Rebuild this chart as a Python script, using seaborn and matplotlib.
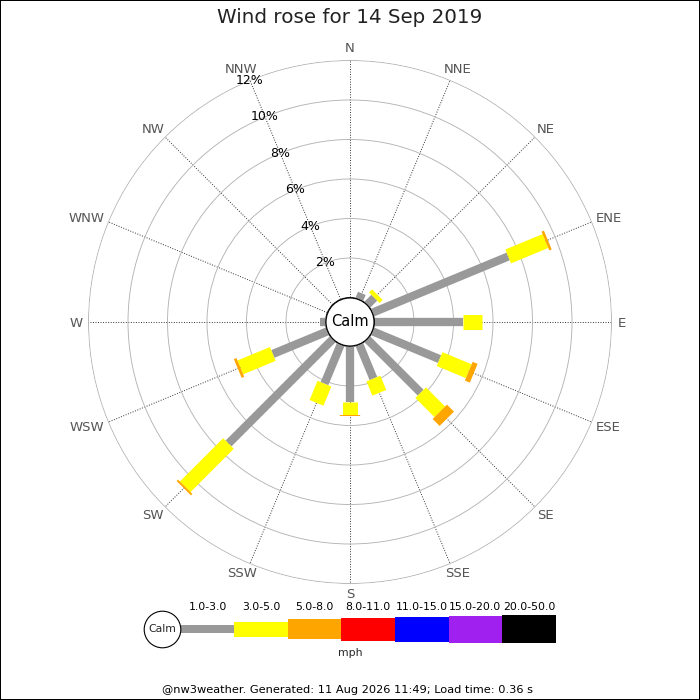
import numpy as np
import matplotlib
matplotlib.use("Agg")
import matplotlib.pyplot as plt
from matplotlib.patches import Circle, Rectangle
import seaborn as sns

sns.set_style("white")
plt.rcParams['font.family'] = ['DejaVu Sans']

# ---------------- data ----------------
directions = ['N', 'NNE', 'NE', 'ENE', 'E', 'ESE', 'SE', 'SSE',
              'S', 'SSW', 'SW', 'WSW', 'W', 'WNW', 'NW', 'NNW']
band_1_3 = [0.0, 0.33, 0.50, 7.43, 4.47, 3.67, 3.82, 1.86,
            2.79, 2.14, 7.46, 2.99, 0.28, 0.0, 0.0, 0.0]
band_3_5 = [0.0, 0.0, 0.22, 2.04, 0.98, 1.60, 1.37, 0.78,
            0.68, 1.05, 3.10, 1.78, 0.0, 0.0, 0.0, 0.0]
band_5_8 = [0.0, 0.0, 0.0, 0.13, 0.0, 0.27, 0.50, 0.0,
            0.07, 0.0, 0.10, 0.14, 0.0, 0.0, 0.0, 0.0]
ring_values = [2, 4, 6, 8, 10, 12]
ring_labels = ['2%', '4%', '6%', '8%', '10%', '12%']

legend_labels = ['1.0-3.0', '3.0-5.0', '5.0-8.0', '8.0-11.0',
                 '11.0-15.0', '15.0-20.0', '20.0-50.0']
legend_colors = ['#999999', '#ffff00', '#ffa500', '#ff0000',
                 '#0000ff', '#a020f0', '#000000']
legend_heights = [8.3, 15, 20.3, 23, 25, 26.7, 28.3]   # px

title = 'Wind rose for 14 Sep 2019'
footer = '@nw3weather. Generated: 11 Aug 2026 11:49; Load time: 0.36 s'

# ---------------- figure ----------------
fig = plt.figure(figsize=(7, 7), dpi=100)
fig.patch.set_facecolor('white')

px_per_unit = 19.75
zero_px = 24.5
rmax = 12.03
R_px = zero_px + px_per_unit * rmax
cx, cy = 350 / 700, 1 - 322 / 700
half = R_px / 700
ax = fig.add_axes([cx - half, cy - half, 2 * half, 2 * half], projection='polar')
ax.set_theta_zero_location('N')
ax.set_theta_direction(-1)
ax.set_ylim(0, rmax)
ax.set_rorigin(-zero_px / px_per_unit)
ax.set_facecolor('white')
for sp in ax.spines.values():
    sp.set_visible(False)

angles = np.deg2rad(np.arange(16) * 22.5)
ax.set_xticks(angles)
ax.set_xticklabels([])
ax.set_yticks(ring_values)
ax.set_yticklabels([])
ax.xaxis.grid(True, color='#333333', linestyle=(0, (1, 1.6)), linewidth=0.7)
ax.yaxis.grid(True, color='#b4b4b4', linestyle='-', linewidth=0.65)
ax.set_axisbelow(True)

# direction labels, placed just outside the outer ring
renderer = fig.canvas.get_renderer()
dir_fs = 9.5
cap_px = 0.73 * dir_fs * 100 / 72
gap = 5.0
for th, lab in zip(angles, directions):
    tmp = fig.text(0, 0, lab, fontsize=dir_fs)
    w = tmp.get_window_extent(renderer=renderer).width
    tmp.remove()
    s, c = np.sin(th), np.cos(th)
    dx = gap * s + (w / 2 + 1) * s
    vgap = gap + 3 if c > 0 else gap
    dy = vgap * c + (cap_px / 2) * c - cap_px / 2
    ax.annotate(lab, xy=(th, 12), xytext=(dx, dy), textcoords='offset pixels',
                ha='center', va='baseline', fontsize=dir_fs, color='#555555',
                annotation_clip=False)

for v, lab in zip(ring_values, ring_labels):
    ax.text(np.deg2rad(337.5), v, lab, ha='center', va='center',
            fontsize=9, color='black', zorder=6)

# bars
bands = [np.array(band_1_3), np.array(band_3_5), np.array(band_5_8)]
widths_px = legend_heights[:3]
starts = np.zeros(16)
for vals, col, wpx in zip(bands, legend_colors[:3], widths_px):
    for th, s0, v in zip(angles, starts, vals):
        if v > 0:
            ax.plot([th, th], [s0, s0 + v], color=col, linewidth=wpx * 0.72,
                    solid_capstyle='butt', zorder=4)
    starts = starts + vals

# calm circle
calm_r = 24.0 / (2 * R_px)
ax.add_patch(Circle((0.5, 0.5), calm_r, transform=ax.transAxes,
                    facecolor='white', edgecolor='black', linewidth=0.8,
                    zorder=7, clip_on=False))
ax.text(0.5, 0.5, 'Calm', transform=ax.transAxes, ha='center', va='center',
        fontsize=10.5, color='black', zorder=8)

# title
fig.text(0.5, 1 - 17.5 / 700, title, ha='center', va='center',
         fontsize=14.3, color='#222222')

# legend
seg_w = 375 / 7
lax = fig.add_axes([180.7 / 700, (1 - 629.2 / 700) - 15 / 700, 375 / 700, 30 / 700])
lax.set_xlim(0, 7)
lax.set_ylim(-15, 15)
lax.axis('off')
hts = np.array(legend_heights)
lax.bar(np.arange(7), hts, width=1.0, bottom=-hts / 2, align='edge',
        color=legend_colors, linewidth=0)
for i, lab in enumerate(legend_labels):
    lax.text(i + 0.5, 22.2, lab, ha='center', va='center', fontsize=7.8,
             color='black')
lax.scatter([-18.3 / seg_w], [0], s=(36.6 * 0.72) ** 2, facecolor='white',
            edgecolor='black', linewidth=0.8, clip_on=False, zorder=5)
lax.text(-18.3 / seg_w, 0, 'Calm', ha='center', va='center', fontsize=7.8,
         zorder=6)
fig.text(0.5, 1 - 653.3 / 700, 'mph', ha='center', va='center', fontsize=7.8)

# footer
fig.text(0.497, 1 - 690 / 700, footer, ha='center', va='center', fontsize=8.2,
         color='black')

# border
fig.patches.append(Rectangle((0, 0), 1, 1, transform=fig.transFigure,
                             fill=False, edgecolor='black', linewidth=1.44))

fig.savefig('out.png', dpi=100, facecolor='white')
